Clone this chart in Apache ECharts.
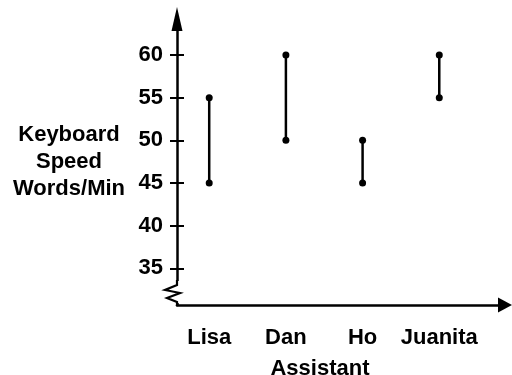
<!DOCTYPE html>
<html>
<head>
<meta charset="utf-8">
<style>
  html, body { margin: 0; padding: 0; background: #fff; }
  #chart { width: 512px; height: 375px; }
</style>
<script src="https://cdn.jsdelivr.net/npm/echarts@6/dist/echarts.min.js"></script>
</head>
<body>
<div id="chart"></div>
<script>
// Keyboard speed ranges (words per minute) for each assistant
const assistants = ['Lisa', 'Dan', 'Ho', 'Juanita'];
const lowSpeed = [45, 50, 45, 55];
const highSpeed = [55, 60, 50, 60];
const speedTicks = [35, 40, 45, 50, 55, 60];

const FONT = '"Liberation Sans", Arial, Helvetica, sans-serif';
const FONT_SIZE = 22;
const INK = '#000';

const rangeData = assistants.map((name, i) => [i, lowSpeed[i], highSpeed[i]]);

const chart = echarts.init(document.getElementById('chart'), null, { renderer: 'canvas' });

chart.setOption({
  animation: false,
  backgroundColor: '#fff',
  grid: {
    left: 177, right: 7, top: 19, bottom: 70,
    containLabel: false,
    outerBoundsMode: 'none'
  },
  xAxis: {
    type: 'value',
    min: -0.42,
    max: 3.857,
    name: 'Assistant',
    nameLocation: 'middle',
    nameGap: 53,
    nameTextStyle: {
      fontFamily: FONT, fontWeight: 'bold', fontSize: FONT_SIZE, color: INK,
      padding: [0, 42, 0, 0]
    },
    splitLine: { show: false },
    axisLine: {
      show: true,
      onZero: false,
      symbol: ['none', 'triangle'],
      symbolSize: [15, 14],
      lineStyle: { color: INK, width: 2.5 }
    },
    axisTick: { show: false },
    axisLabel: {
      customValues: [0, 1, 2, 3],
      formatter: v => assistants[Math.round(v)],
      margin: 22,
      fontFamily: FONT, fontWeight: 'bold', fontSize: FONT_SIZE, color: INK
    }
  },
  yAxis: [
    {
      type: 'value',
      position: 'left',
      min: 30.7,
      max: 64.22,
      name: 'Keyboard\nSpeed\nWords/Min',
      nameLocation: 'middle',
      nameRotate: 0,
      nameGap: 108,
      nameTextStyle: {
        fontFamily: FONT, fontWeight: 'bold', fontSize: FONT_SIZE, color: INK,
        align: 'center', verticalAlign: 'middle', lineHeight: 27,
        padding: [6, 0, 0, 0]
      },
      splitLine: { show: false },
      axisLine: {
        show: true,
        onZero: false,
        symbol: ['none', 'triangle'],
        symbolSize: [11, 24],
        lineStyle: { color: INK, width: 2.5 }
      },
      axisTick: {
        show: true,
        customValues: speedTicks,
        length: 7,
        lineStyle: { color: INK, width: 2 }
      },
      axisLabel: {
        customValues: speedTicks,
        margin: 14,
        fontFamily: FONT, fontWeight: 'bold', fontSize: FONT_SIZE, color: INK
      }
    },
    {
      // inner half of each tick, so the marks cross the axis
      type: 'value',
      position: 'left',
      offset: 0,
      min: 30.7,
      max: 64.22,
      splitLine: { show: false },
      axisLabel: { show: false },
      axisLine: { show: false, onZero: false },
      axisTick: {
        show: true,
        inside: true,
        customValues: speedTicks,
        length: 7,
        lineStyle: { color: INK, width: 2 }
      }
    }
  ],
  series: [
    {
      // axis break: white gap over the bottom of the y axis, then a zigzag
      type: 'custom',
      z: 5,
      silent: true,
      data: [[0]],
      renderItem: function (params) {
        const cs = params.coordSys;
        const x0 = cs.x;
        const y0 = cs.y + cs.height;
        return {
          type: 'group',
          children: [
            {
              type: 'rect',
              shape: { x: x0 - 3, y: y0 - 24, width: 6, height: 22 },
              style: { fill: '#fff' }
            },
            {
              type: 'polyline',
              shape: {
                points: [
                  [x0, y0 - 25], [x0, y0 - 20], [x0 - 12, y0 - 15],
                  [x0 + 3, y0 - 12], [x0 - 10, y0 - 7],
                  [x0, y0 - 3], [x0, y0 + 1]
                ]
              },
              style: { stroke: INK, lineWidth: 2.2, fill: null, lineJoin: 'miter' }
            }
          ]
        };
      }
    },
    {
      // speed range for each assistant: a vertical bar capped by dots
      type: 'custom',
      z: 6,
      data: rangeData,
      renderItem: function (params, api) {
        const x = api.value(0);
        const lo = api.coord([x, api.value(1)]);
        const hi = api.coord([x, api.value(2)]);
        return {
          type: 'group',
          children: [
            {
              type: 'line',
              shape: { x1: lo[0], y1: lo[1], x2: hi[0], y2: hi[1] },
              style: { stroke: INK, lineWidth: 2.5 }
            },
            { type: 'circle', shape: { cx: lo[0], cy: lo[1], r: 3.5 }, style: { fill: INK } },
            { type: 'circle', shape: { cx: hi[0], cy: hi[1], r: 3.5 }, style: { fill: INK } }
          ]
        };
      }
    }
  ]
});
</script>
</body>
</html>
